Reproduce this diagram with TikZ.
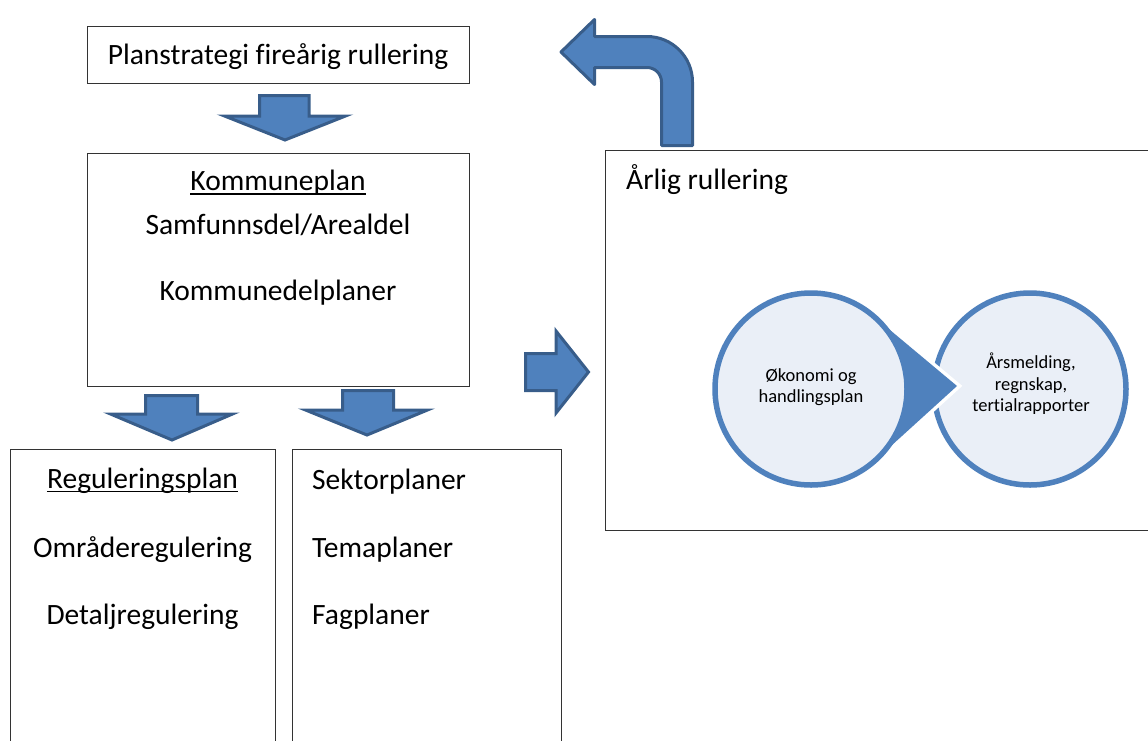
\documentclass[tikz,border=0pt]{standalone}
\usepackage{fontspec}
\setmainfont[Ligatures=NoCommon]{Carlito}
\definecolor{arrfill}{HTML}{4F81BD}
\definecolor{arrline}{HTML}{385D8A}
\definecolor{ringblue}{HTML}{4F81BD}
\definecolor{circfill}{HTML}{EAEFF7}
\tikzset{
  box/.style={draw=black!80, line width=1.3pt, anchor=north west, inner sep=0pt, fill=white},
  bigtxt/.style={inner sep=0pt, font=\fontsize{29.5}{35}\selectfont, text=black},
  smalltxt/.style={inner sep=0pt, align=center, font=\fontsize{18.5}{21.5}\selectfont, text=black},
  blockarrow/.style={fill=arrfill, draw=arrline, line width=3pt},
  uline/.style={draw=black, line width=1.4pt},
  circ/.style={circle, fill=circfill, draw=ringblue, line width=5.5pt, minimum size=192pt, inner sep=0pt}
}
\begin{document}
\begin{tikzpicture}[x=1pt,y=-1pt]
\useasboundingbox (0,0) rectangle (1148,740);
\clip (0,0) rectangle (1148,740);

% boxes
\node[box, minimum width=382pt, minimum height=57pt] (psbox) at (87,26) {};
\node[box, minimum width=382pt, minimum height=233pt] (kpbox) at (87,153) {};
\node[box, minimum width=265pt, minimum height=320pt] (rpbox) at (10,449) {};
\node[box, minimum width=269pt, minimum height=320pt] (skbox) at (292,449) {};
\node[box, minimum width=560pt, minimum height=380pt] (arbox) at (605,150) {};

% texts
\node[bigtxt, anchor=base] (ps) at (278,64) {Planstrategi fireårig rullering};
\node[bigtxt, anchor=base] (kp) at (278,190) {Kommuneplan};
\draw[uline] ([yshift=-4pt]kp.base west) -- ([yshift=-4pt]kp.base east);
\node[bigtxt, anchor=base] (sa) at (278,234) {Samfunnsdel/Arealdel};
\node[bigtxt, anchor=base] (kd) at (278,300) {Kommunedelplaner};
\node[bigtxt, anchor=base] (rp) at (142.5,488) {Reguleringsplan};
\draw[uline] ([yshift=-3.5pt]rp.base west) -- ([yshift=-3.5pt]rp.base east);
\node[bigtxt, anchor=base] (or) at (142.5,557) {Områderegulering};
\node[bigtxt, anchor=base] (dr) at (142.5,624) {Detaljregulering};
\node[bigtxt, anchor=base west] (sk) at (312,489) {Sektorplaner};
\node[bigtxt, anchor=base west] (tm) at (312,557) {Temaplaner};
\node[bigtxt, anchor=base west] (fg) at (312,624) {Fagplaner};
\node[bigtxt, anchor=base west] (ar) at (626,189) {Årlig rullering};

% block arrows
\draw[blockarrow] (259.5,95.5) -- (309,95.5) -- (309,116) -- (345.5,116) -- (285,140) -- (224.5,116) -- (259.5,116) -- cycle;
\draw[blockarrow] (145.5,395.5) -- (197.5,395.5) -- (197.5,414) -- (232.5,414) -- (172,440) -- (110.5,414) -- (145.5,414) -- cycle;
\draw[blockarrow] (342.5,390.5) -- (393.5,390.5) -- (393.5,410) -- (427.5,410) -- (367,435) -- (305.5,410) -- (342.5,410) -- cycle;
\draw[blockarrow] (525.5,353.5) -- (556,353.5) -- (556,331) -- (588.5,372) -- (556,413) -- (556,390.5) -- (525.5,390.5) -- cycle;
\draw[blockarrow, line join=round] (661.5,145.5) -- (692.5,145.5) -- (692.5,82)
  .. controls (692.5,56.9) and (672.1,36.5) .. (647,36.5) -- (594.5,36.5) -- (594.5,19.5) -- (561,52)
  -- (594.5,84.5) -- (594.5,67.5) -- (647,67.5)
  .. controls (655,67.5) and (661.5,74) .. (661.5,82) -- cycle;

% cycle circles
\node[circ] (c2) at (1030,389) {};
\coordinate (tip) at (957,386);
\draw[white, line width=7pt] (874.1,316.7) -- (tip) -- (874.1,461.3);
\fill[ringblue] (874.1,316.7) -- (tip) -- (874.1,461.3) -- cycle;
\node[circ] (c1) at (811,389) {};
\node[smalltxt] (t1) at (811,387) {Økonomi og\\handlingsplan};
\node[smalltxt] (t2) at (1031,384) {Årsmelding,\\regnskap,\\tertialrapporter};
\end{tikzpicture}
\end{document}
